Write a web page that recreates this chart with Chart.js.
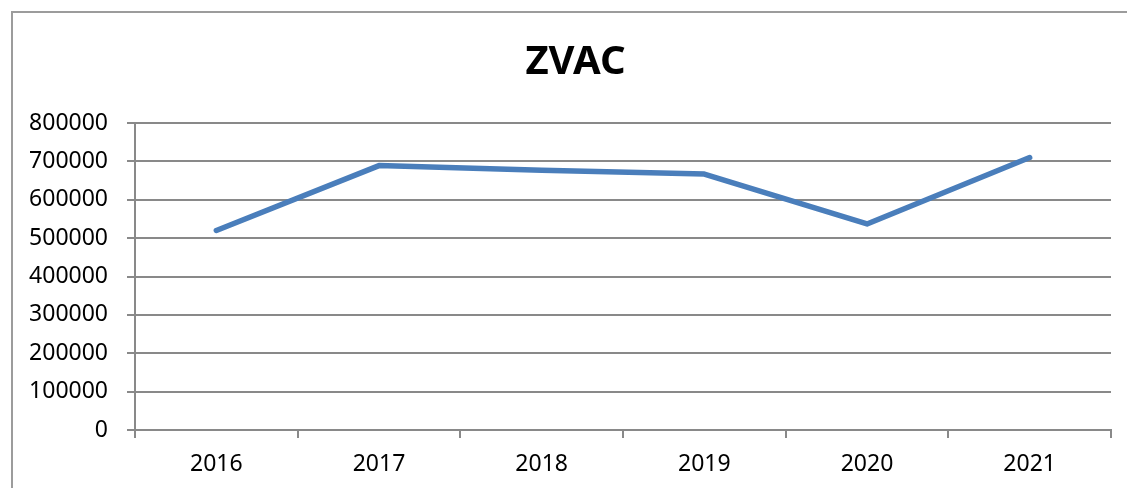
<!DOCTYPE html>
<html>
<head>
<meta charset="utf-8">
<script src="https://cdn.jsdelivr.net/npm/chart.js@4"></script>
<style>
  html, body { margin: 0; padding: 0; background: #ffffff; overflow: hidden; }
  #frame { position: absolute; left: 11px; top: 11px; width: 1300px; height: 700px;
           border-left: 2px solid #9c9c9c; border-top: 2px solid #9c9c9c; box-sizing: border-box; }
  #wrap { position: absolute; left: 0; top: 0; width: 1127px; height: 488px; }
</style>
</head>
<body>
<div id="frame"></div>
<div id="wrap"><canvas id="c" width="1127" height="488"></canvas></div>
<script>
const categories = ['2016', '2017', '2018', '2019', '2020', '2021'];
const zvacValues = [520000, 689000, 677000, 667000, 537000, 710000];
const yTickMin = 0;
const yTickMax = 800000;
const yTickStep = 100000;
const chartTitle = 'ZVAC';

const FONT = "'Noto Sans', sans-serif";
const GRID = '#898989';

const titlePlugin = {
  id: 'centeredTitle',
  afterDraw(chart) {
    const ctx = chart.ctx;
    ctx.save();
    ctx.font = "bold 40px " + FONT;
    ctx.fillStyle = '#000000';
    ctx.textAlign = 'center';
    ctx.textBaseline = 'middle';
    ctx.fillText(chartTitle, 575.5, 63);
    ctx.restore();
  }
};

new Chart(document.getElementById('c'), {
  type: 'line',
  data: {
    labels: categories,
    datasets: [{
      label: chartTitle,
      data: zvacValues,
      borderColor: '#4A7EBB',
      borderWidth: 5.5,
      borderCapStyle: 'round',
      borderJoinStyle: 'round',
      pointRadius: 0,
      pointHoverRadius: 0,
      tension: 0,
      fill: false
    }]
  },
  plugins: [titlePlugin],
  options: {
    responsive: false,
    animation: false,
    events: [],
    layout: { padding: { left: 0, right: 16, top: 123, bottom: 0 } },
    plugins: {
      legend: { display: false },
      tooltip: { enabled: false },
      title: { display: false }
    },
    scales: {
      x: {
        type: 'category',
        offset: true,
        afterFit: (s) => { s.height = 58; },
        grid: {
          offset: true,
          drawOnChartArea: false,
          drawTicks: true,
          tickLength: 8,
          color: GRID,
          lineWidth: 2
        },
        border: { display: true, color: GRID, width: 2 },
        ticks: {
          color: '#000000',
          font: { family: FONT, size: 23 },
          padding: 13,
          maxRotation: 0,
          autoSkip: false
        }
      },
      y: {
        min: yTickMin,
        max: yTickMax,
        afterFit: (s) => { s.width = 135; },
        grid: {
          color: GRID,
          lineWidth: 2,
          drawTicks: true,
          tickLength: 8
        },
        border: { display: true, color: GRID, width: 2 },
        ticks: {
          stepSize: yTickStep,
          color: '#000000',
          font: { family: FONT, size: 23 },
          padding: 19,
          callback: (v) => String(v)
        }
      }
    }
  }
});
</script>
</body>
</html>
